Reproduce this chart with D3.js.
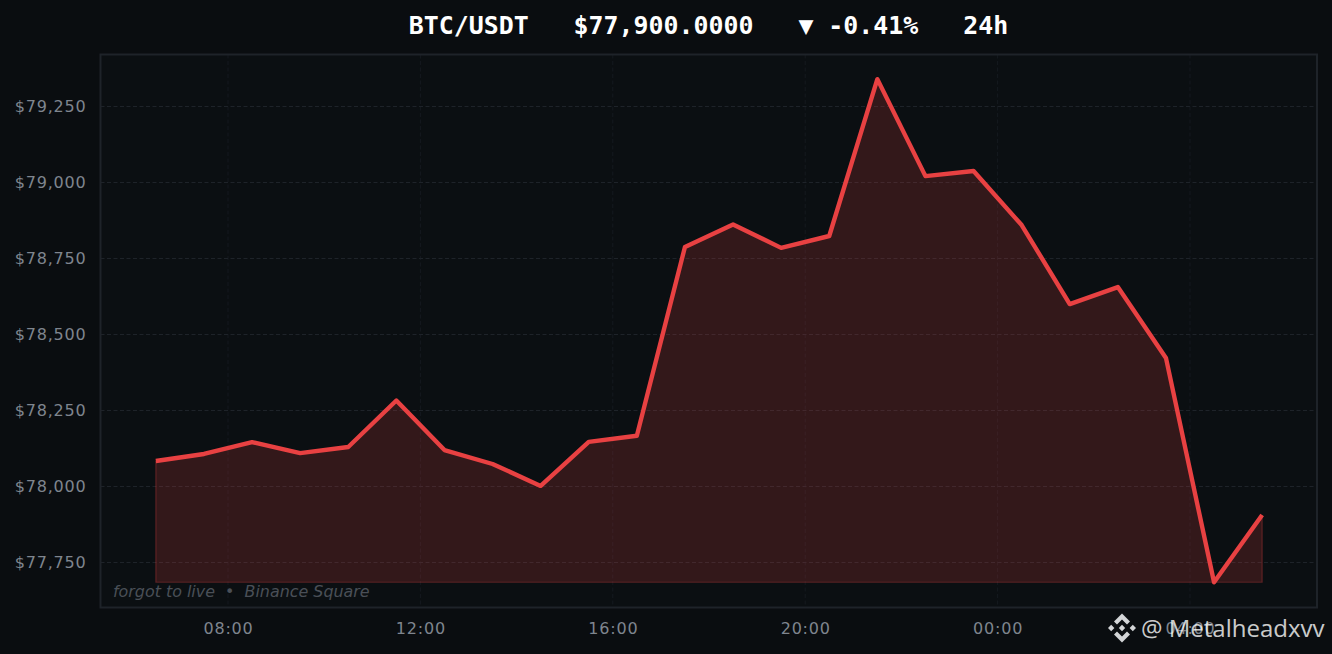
<!DOCTYPE html>
<html><head><meta charset="utf-8">
<script src="https://cdnjs.cloudflare.com/ajax/libs/d3/7.8.5/d3.min.js"></script>
<style>html,body{margin:0;padding:0;background:#0a0d10;overflow:hidden}svg{display:block}</style>
</head><body><svg id="c" width="1332" height="654"></svg>
<script>
const hoursFromStart = [0,1,2,3,4,5,6,7,8,9,10,11,12,13,14,15,16,17,18,19,20,21,22,23];
const prices = [78084,78107,78146,78110,78130,78283,78120,78074,78002,78147,78167,78788,78862,78785,78824,79340,79021,79038,78860,78600,78656,78423,77685,77906];
const yTicks = [77750,78000,78250,78500,78750,79000,79250];
const xTickHours = [8,12,16,20,24,28];
const titleText = "BTC/USDT   $77,900.0000   ▼ -0.41%   24h";
const noteText = "forgot to live  •  Binance Square";
const watermark = "@ Metalheadxvv";

const L=100.5,R=1317,T=54.5,B=607.5;
const base = new Date(2024,0,1,0,0,0);
const at = h => new Date(base.getTime()+h*3600e3);
const times = hoursFromStart.map(h=>at(6.5+h));
const px = 48.1;
const x = d3.scaleTime().domain([at(8-(228-L)/px),at(8+(R-228)/px)]).range([L,R]);
const y = d3.scaleLinear().domain([79250+(106.5-T)/0.304, 79250-(B-106.5)/0.304]).range([T,B]);

const svg=d3.select("#c");
svg.append("rect").attr("width",1332).attr("height",654).attr("fill","#0a0d10");
svg.append("rect").attr("x",L).attr("y",T).attr("width",R-L).attr("height",B-T).attr("fill","#0b0f12");

const fmt=d3.format(",");
const gy=svg.append("g").attr("transform",`translate(${L},0)`)
 .call(d3.axisLeft(y).tickValues(yTicks).tickSize(0).tickPadding(14).tickFormat(d=>"$"+fmt(d)));
const gx=svg.append("g").attr("transform",`translate(0,${B})`)
 .call(d3.axisBottom(x).tickValues(xTickHours.map(at)).tickSize(0).tickPadding(15).tickFormat(d3.timeFormat("%H:%M")));
[gy,gx].forEach(g=>{g.select(".domain").remove();
 g.selectAll("text").attr("fill","#7f858e").attr("font-family","'DejaVu Sans'").attr("font-size",16).attr("letter-spacing",0.8);});

const grid=svg.append("g");
grid.selectAll("line.h").data(yTicks).join("line").attr("class","h")
 .attr("x1",L).attr("x2",R).attr("y1",d=>Math.round(y(d))+.5).attr("y2",d=>Math.round(y(d))+.5)
 .attr("stroke","#1e2329").attr("stroke-dasharray","4,2.5");
grid.selectAll("line.v").data(xTickHours).join("line").attr("class","v")
 .attr("x1",d=>x(at(d))).attr("x2",d=>x(at(d))).attr("y1",T).attr("y2",B)
 .attr("stroke","#1e2329").attr("stroke-opacity",.55).attr("stroke-dasharray","4,2.5");

const floorY=y(d3.min(prices));
const pts=times.map((t,i)=>[t,prices[i]]);
svg.append("path").datum(pts)
 .attr("d",d3.area().x(d=>x(d[0])).y0(floorY).y1(d=>y(d[1])))
 .attr("fill","#e84142").attr("fill-opacity",.18);
svg.append("path")
 .attr("d",`M${x(times[0])},${y(prices[0])}V${floorY}H${x(times[23])}V${y(prices[23])}`)
 .attr("fill","none").attr("stroke","#e84142").attr("stroke-opacity",.3).attr("stroke-width",1.2);
svg.append("path").datum(pts)
 .attr("d",d3.line().x(d=>x(d[0])).y(d=>y(d[1])))
 .attr("fill","none").attr("stroke","#e84142").attr("stroke-width",4.4).attr("stroke-linejoin","round");

svg.append("rect").attr("x",L).attr("y",T).attr("width",R-L).attr("height",B-T)
 .attr("fill","none").attr("stroke","#1e2329").attr("stroke-width",2);

svg.append("text").attr("x",708.5).attr("y",33.5).attr("text-anchor","middle")
 .style("white-space","pre")
 .attr("font-family","'DejaVu Sans Mono'").attr("font-weight","bold").attr("font-size",24.9)
 .attr("fill","#ffffff").text(titleText);
svg.append("text").attr("x",113).attr("y",597).style("white-space","pre")
 .attr("font-family","'DejaVu Sans'").attr("font-style","italic").attr("font-size",15.9)
 .attr("fill","#4a4f57").text(noteText);

const logo=svg.append("g").attr("transform","translate(1122,628)").attr("fill","#d3d5d7");
logo.append("path").attr("d","M0,-14.5L8,-6.5L5,-3.5L0,-8.5L-5,-3.5L-8,-6.5Z");
logo.append("path").attr("d","M0,14.5L8,6.5L5,3.5L0,8.5L-5,3.5L-8,6.5Z");
logo.append("path").attr("d","M-14,0L-10.8,-3.2L-7.6,0L-10.8,3.2Z");
logo.append("path").attr("d","M14,0L10.8,-3.2L7.6,0L10.8,3.2Z");
logo.append("path").attr("d","M0,-3.2L3.2,0L0,3.2L-3.2,0Z");
svg.append("text").attr("x",1141).attr("y",637)
 .attr("font-family","'Open Sans'").attr("font-size",24).attr("fill","#ffffff").attr("fill-opacity",.8).text(watermark);
</script></body></html>
